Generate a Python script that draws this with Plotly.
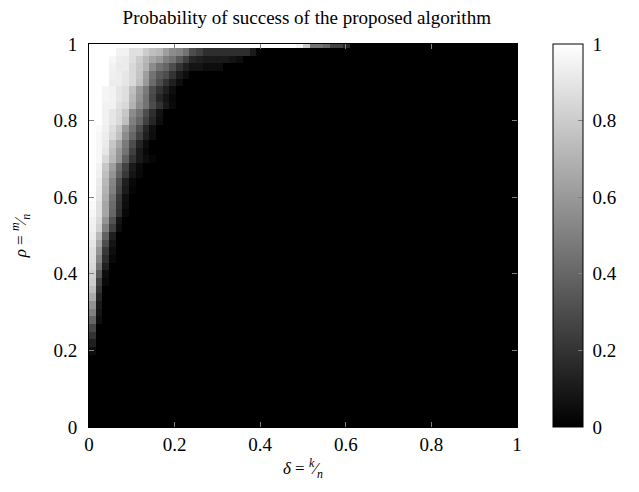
import plotly.graph_objects as go

# Grid: delta = k/n (64 columns), rho = m/n (51 rows, step 0.02)
n_cols = 64
delta = [(i + 0.5) / n_cols for i in range(n_cols)]
rho = [j * 0.02 for j in range(51)]

# Success probability (percent): for each row (rho index),
# the leading non-zero cells starting at delta = 0; all remaining cells are 0.
row_lead = {
    10: [5],
    11: [12],
    12: [20],
    13: [28],
    14: [40, 5],
    15: [50, 8],
    16: [58, 10],
    17: [68, 15],
    18: [75, 20],
    19: [80, 25, 3],
    20: [82, 35, 5],
    21: [85, 45, 12],
    22: [87, 52, 18, 3],
    23: [88, 58, 22, 5],
    24: [90, 65, 30, 8],
    25: [92, 72, 38, 12],
    26: [94, 82, 50, 25, 5],
    27: [95, 85, 58, 32, 8],
    28: [97, 88, 65, 40, 18, 3],
    29: [98, 88, 65, 42, 20, 5],
    30: [100, 90, 68, 45, 22, 6],
    31: [100, 91, 70, 50, 27, 10, 2],
    32: [100, 92, 72, 52, 30, 12, 3],
    33: [100, 94, 75, 58, 38, 22, 8, 3],
    34: [100, 95, 78, 62, 42, 26, 10, 4],
    35: [100, 97, 85, 72, 58, 38, 20, 10, 5, 2],
    36: [100, 97, 90, 75, 60, 45, 25, 10, 3],
    37: [100, 97, 92, 78, 65, 48, 30, 14, 5],
    38: [100, 97, 93, 85, 75, 55, 40, 25, 12, 5],
    39: [100, 98, 94, 87, 78, 60, 45, 30, 15, 6],
    40: [100, 100, 95, 90, 85, 75, 50, 40, 25, 15, 5],
    41: [100, 100, 95, 90, 86, 78, 55, 45, 30, 18, 7],
    42: [100, 100, 95, 95, 88, 85, 70, 55, 45, 30, 20, 10, 4],
    43: [100, 100, 96, 95, 90, 87, 72, 58, 45, 28, 15, 8, 3],
    44: [100, 100, 96, 95, 90, 87, 75, 60, 48, 30, 20, 12, 5],
    45: [100, 100, 100, 93, 93, 90, 85, 75, 60, 42, 30, 20, 12, 5],
    46: [100, 100, 100, 94, 93, 90, 85, 77, 62, 45, 35, 30, 20, 10, 5],
    47: [100, 100, 100, 95, 92, 92, 85, 78, 70, 55, 45, 40, 30, 20, 12, 8, 8, 5, 5, 5],
    48: [100, 100, 100, 97, 93, 92, 87, 80, 72, 65, 60, 50, 45, 35, 25, 15, 12,
         10, 10, 10, 10, 8, 5],
    49: [100, 100, 100, 100, 95, 95, 88, 88, 80, 75, 72, 62, 55, 52, 45, 30, 25,
         18, 18, 18, 18, 18, 18, 18, 10],
    50: [100, 100, 100, 100, 100, 100, 100, 100, 100, 100, 100, 100, 100, 100,
         100, 100, 100, 100, 100, 100, 100, 100, 100, 100, 100, 100, 100, 100,
         100, 100, 100, 95, 80, 45, 45, 40, 25, 25, 15],
}

z = []
for j in range(len(rho)):
    lead = row_lead.get(j, [])
    z.append([(lead[i] / 100.0 if i < len(lead) else 0.0) for i in range(n_cols)])

tick_vals = [0, 0.2, 0.4, 0.6, 0.8, 1]
tick_text = ["0", "0.2", "0.4", "0.6", "0.8", "1"]
cbar_text = ["\u00a0" + t for t in tick_text]

serif = "Liberation Serif"

fig = go.Figure(
    go.Heatmap(
        x=delta,
        y=rho,
        z=z,
        zmin=0,
        zmax=1,
        colorscale=[[0, "#000000"], [1, "#ffffff"]],
        zsmooth=False,
        colorbar=dict(
            x=1.0836,
            xanchor="left",
            y=0.5,
            yanchor="middle",
            len=1,
            lenmode="fraction",
            thickness=30,
            thicknessmode="pixels",
            outlinewidth=1,
            outlinecolor="#000000",
            tickvals=tick_vals,
            ticktext=cbar_text,
            ticks="inside",
            ticklen=5,
            tickcolor="#808080",
            tickfont=dict(family=serif, size=19, color="#000000"),
            xpad=0,
            ypad=0,
        ),
    )
)

fig.update_layout(
    width=631,
    height=484,
    margin=dict(l=78.5, r=122, t=36, b=65),
    paper_bgcolor="white",
    plot_bgcolor="white",
    title=dict(
        text="Probability of success of the proposed algorithm",
        x=0.4735,
        xanchor="center",
        y=0.981,
        yanchor="middle",
        font=dict(family=serif, size=19, color="#000000"),
    ),
    xaxis=dict(
        range=[0, 1],
        tickvals=tick_vals,
        ticktext=tick_text,
        ticks="inside",
        ticklen=5,
        tickcolor="#808080",
        showline=True,
        linecolor="#000000",
        linewidth=1,
        mirror="ticks",
        showgrid=False,
        zeroline=False,
        tickfont=dict(family=serif, size=19, color="#000000"),
        title=dict(
            text="<i>δ</i> = <sup><i>k</i></sup>⁄<sub><i>n</i></sub>",
            font=dict(family=serif, size=17, color="#000000"),
            standoff=8,
        ),
    ),
    yaxis=dict(
        range=[0, 1],
        tickvals=tick_vals,
        ticktext=tick_text,
        ticks="inside",
        ticklen=5,
        tickcolor="#808080",
        ticklabelstandoff=7,
        showline=True,
        linecolor="#000000",
        linewidth=1,
        mirror="ticks",
        showgrid=False,
        zeroline=False,
        tickfont=dict(family=serif, size=19, color="#000000"),
        title=dict(
            text="<i>ρ</i> = <sup><i>m</i></sup>⁄<sub><i>n</i></sub>",
            font=dict(family=serif, size=17, color="#000000"),
            standoff=22,
        ),
    ),
)

fig.write_html("out.html")
